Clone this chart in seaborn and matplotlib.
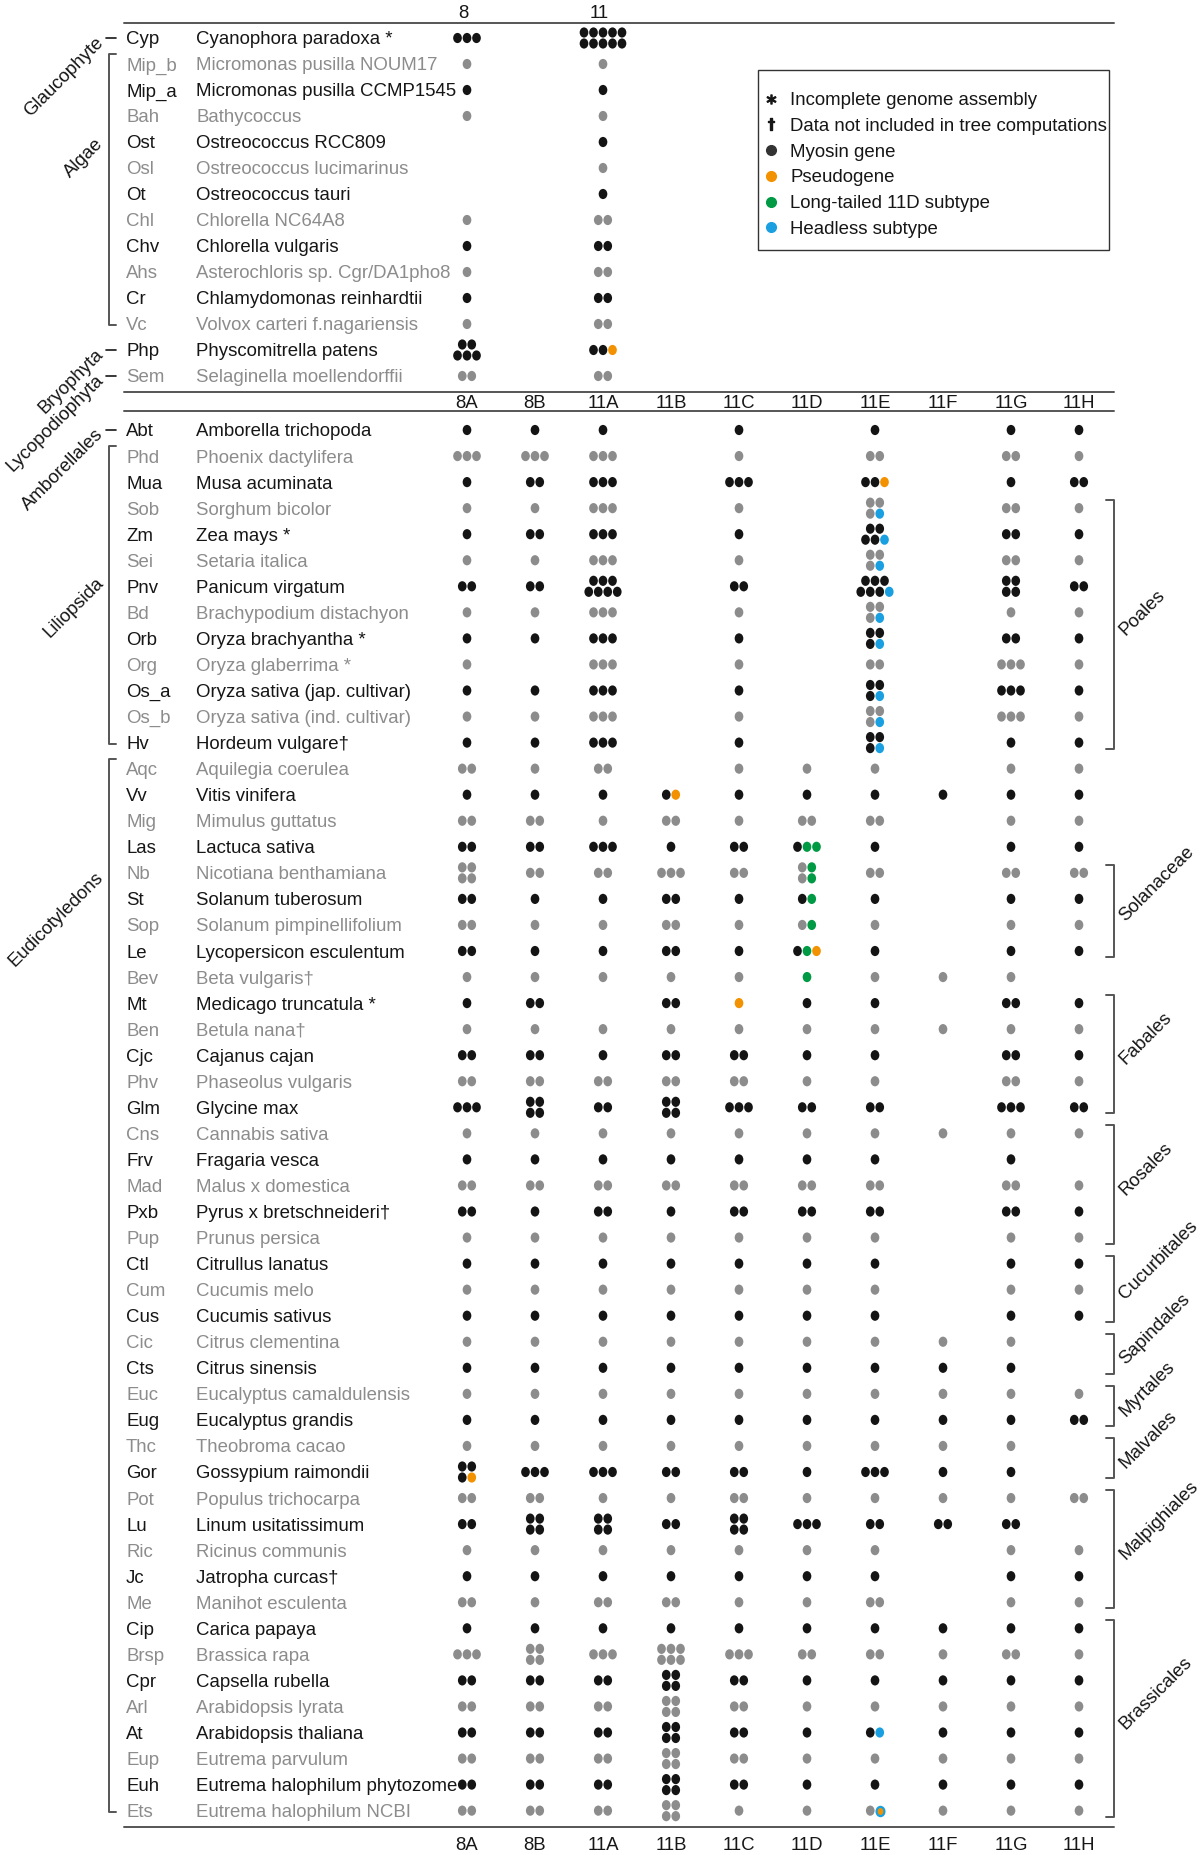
import matplotlib.pyplot as plt
import pandas as pd
import seaborn as sns
from matplotlib.lines import Line2D
from matplotlib.markers import MarkerStyle
from matplotlib.patches import Rectangle
from matplotlib.path import Path
from matplotlib.transforms import Affine2D

# cell codes: int = that many plain myosin genes, str = one letter per gene
# n plain, p pseudogene, l long-tailed 11D, h headless, x headless pseudogene

top_classes = ['8', '11']
top_abbr = ['Cyp', 'Mip_b', 'Mip_a', 'Bah', 'Ost', 'Osl', 'Ot', 'Chl', 'Chv',
            'Ahs', 'Cr', 'Vc', 'Php', 'Sem']
top_names = ['Cyanophora paradoxa *', 'Micromonas pusilla NOUM17',
             'Micromonas pusilla CCMP1545', 'Bathycoccus',
             'Ostreococcus RCC809', 'Ostreococcus lucimarinus',
             'Ostreococcus tauri', 'Chlorella NC64A8', 'Chlorella vulgaris',
             'Asterochloris sp. Cgr/DA1pho8', 'Chlamydomonas reinhardtii',
             'Volvox carteri f.nagariensis', 'Physcomitrella patens',
             'Selaginella moellendorffii']
top_counts = [[3, 10], [1, 1], [1, 1], [1, 1], [0, 1], [0, 1], [0, 1],
              [1, 2], [1, 2], [1, 2], [1, 2], [1, 2], [5, 'nnp'], [2, 2]]

classes = ['8A', '8B', '11A', '11B', '11C', '11D', '11E', '11F', '11G', '11H']
abbr = ['Abt', 'Phd', 'Mua', 'Sob', 'Zm', 'Sei', 'Pnv', 'Bd', 'Orb', 'Org',
        'Os_a', 'Os_b', 'Hv', 'Aqc', 'Vv', 'Mig', 'Las', 'Nb', 'St', 'Sop',
        'Le', 'Bev', 'Mt', 'Ben', 'Cjc', 'Phv', 'Glm', 'Cns', 'Frv', 'Mad',
        'Pxb', 'Pup', 'Ctl', 'Cum', 'Cus', 'Cic', 'Cts', 'Euc', 'Eug', 'Thc',
        'Gor', 'Pot', 'Lu', 'Ric', 'Jc', 'Me', 'Cip', 'Brsp', 'Cpr', 'Arl',
        'At', 'Eup', 'Euh', 'Ets']
names = ['Amborella trichopoda', 'Phoenix dactylifera', 'Musa acuminata',
         'Sorghum bicolor', 'Zea mays *', 'Setaria italica',
         'Panicum virgatum', 'Brachypodium distachyon',
         'Oryza brachyantha *', 'Oryza glaberrima *',
         'Oryza sativa (jap. cultivar)', 'Oryza sativa (ind. cultivar)',
         'Hordeum vulgare†', 'Aquilegia coerulea', 'Vitis vinifera',
         'Mimulus guttatus', 'Lactuca sativa', 'Nicotiana benthamiana',
         'Solanum tuberosum', 'Solanum pimpinellifolium',
         'Lycopersicon esculentum', 'Beta vulgaris†',
         'Medicago truncatula *', 'Betula nana†', 'Cajanus cajan',
         'Phaseolus vulgaris', 'Glycine max', 'Cannabis sativa',
         'Fragaria vesca', 'Malus x domestica', 'Pyrus x bretschneideri†',
         'Prunus persica', 'Citrullus lanatus', 'Cucumis melo',
         'Cucumis sativus', 'Citrus clementina', 'Citrus sinensis',
         'Eucalyptus camaldulensis', 'Eucalyptus grandis',
         'Theobroma cacao', 'Gossypium raimondii', 'Populus trichocarpa',
         'Linum usitatissimum', 'Ricinus communis', 'Jatropha curcas†',
         'Manihot esculenta', 'Carica papaya', 'Brassica rapa',
         'Capsella rubella', 'Arabidopsis lyrata', 'Arabidopsis thaliana',
         'Eutrema parvulum', 'Eutrema halophilum phytozome',
         'Eutrema halophilum NCBI']
counts = [
    [1, 1, 1, 0, 1, 0, 1, 0, 1, 1],
    [3, 3, 3, 0, 1, 0, 2, 0, 2, 1],
    [1, 2, 3, 0, 3, 0, 'nnp', 0, 1, 2],
    [1, 1, 3, 0, 1, 0, 'nnnh', 0, 2, 1],
    [1, 2, 3, 0, 1, 0, 'nnnnh', 0, 2, 1],
    [1, 1, 3, 0, 1, 0, 'nnnh', 0, 2, 1],
    [2, 2, 7, 0, 2, 0, 'nnnnnnh', 0, 4, 2],
    [1, 1, 3, 0, 1, 0, 'nnnh', 0, 1, 1],
    [1, 1, 3, 0, 1, 0, 'nnnh', 0, 2, 1],
    [1, 0, 3, 0, 1, 0, 2, 0, 3, 1],
    [1, 1, 3, 0, 1, 0, 'nnnh', 0, 3, 1],
    [1, 1, 3, 0, 1, 0, 'nnnh', 0, 3, 1],
    [1, 1, 3, 0, 1, 0, 'nnnh', 0, 1, 1],
    [2, 1, 2, 0, 1, 1, 1, 0, 1, 1],
    [1, 1, 1, 'np', 1, 1, 1, 1, 1, 1],
    [2, 2, 1, 2, 1, 2, 2, 0, 1, 1],
    [2, 2, 3, 1, 2, 'nll', 1, 0, 1, 1],
    [4, 2, 2, 3, 2, 'nlnl', 2, 0, 2, 2],
    [2, 1, 1, 2, 1, 'nl', 1, 0, 1, 1],
    [2, 1, 1, 2, 1, 'nl', 1, 0, 1, 1],
    [2, 1, 1, 2, 1, 'nlp', 1, 0, 1, 1],
    [1, 1, 1, 1, 1, 'l', 1, 1, 1, 0],
    [1, 2, 0, 2, 'p', 1, 1, 0, 2, 1],
    [1, 1, 1, 1, 1, 1, 1, 1, 1, 1],
    [2, 2, 1, 2, 2, 1, 1, 0, 2, 1],
    [2, 2, 2, 2, 2, 1, 1, 0, 2, 1],
    [3, 4, 2, 4, 3, 2, 2, 0, 3, 2],
    [1, 1, 1, 1, 1, 1, 1, 1, 1, 1],
    [1, 1, 1, 1, 1, 1, 1, 0, 1, 0],
    [2, 2, 2, 2, 2, 2, 2, 0, 2, 1],
    [2, 1, 2, 1, 2, 2, 2, 0, 2, 1],
    [1, 1, 1, 1, 1, 1, 1, 0, 1, 1],
    [1, 1, 1, 1, 1, 1, 1, 0, 1, 1],
    [1, 1, 1, 1, 1, 1, 1, 0, 1, 1],
    [1, 1, 1, 1, 1, 1, 1, 0, 1, 1],
    [1, 1, 1, 1, 1, 1, 1, 1, 1, 0],
    [1, 1, 1, 1, 1, 1, 1, 1, 1, 0],
    [1, 1, 1, 1, 1, 1, 1, 1, 1, 1],
    [1, 1, 1, 1, 1, 1, 1, 1, 1, 2],
    [1, 1, 1, 1, 1, 1, 1, 1, 1, 0],
    ['nnnp', 3, 3, 2, 2, 1, 3, 1, 1, 0],
    [2, 2, 1, 1, 2, 1, 1, 1, 1, 2],
    [2, 4, 4, 2, 4, 3, 2, 2, 2, 0],
    [1, 1, 1, 1, 1, 1, 1, 0, 1, 1],
    [1, 1, 1, 1, 1, 1, 1, 0, 1, 1],
    [2, 1, 2, 2, 1, 1, 2, 0, 1, 1],
    [1, 1, 1, 1, 1, 1, 1, 1, 1, 1],
    [3, 4, 3, 6, 3, 2, 2, 1, 2, 1],
    [2, 2, 2, 4, 2, 1, 1, 1, 1, 1],
    [2, 2, 2, 4, 2, 1, 1, 1, 1, 1],
    [2, 2, 2, 4, 2, 1, 'nh', 1, 1, 1],
    [2, 2, 2, 4, 2, 1, 1, 1, 1, 1],
    [2, 2, 2, 4, 2, 1, 1, 1, 1, 1],
    [2, 2, 2, 4, 1, 1, 'nx', 1, 1, 1],
]

# (label, first row, last row, row the label points at)
top_groups = [('Glaucophyte', 'Cyp', 'Cyp', 0), ('Algae', 'Mip_b', 'Vc', 3.9),
              ('Bryophyta', 'Php', 'Php', 12), ('Lycopodiophyta', 'Sem', 'Sem', 13)]
plant_groups = [('Amborellales', 'Abt', 'Abt', 0), ('Liliopsida', 'Phd', 'Hv', 5.7),
                ('Eudicotyledons', 'Aqc', 'Ets', 17)]
orders = [('Poales', 'Sob', 'Hv'), ('Solanaceae', 'Nb', 'Le'),
          ('Fabales', 'Mt', 'Glm'), ('Rosales', 'Cns', 'Pup'),
          ('Cucurbitales', 'Ctl', 'Cus'), ('Sapindales', 'Cic', 'Cts'),
          ('Myrtales', 'Euc', 'Eug'), ('Malvales', 'Thc', 'Gor'),
          ('Malpighiales', 'Pot', 'Me'), ('Brassicales', 'Cip', 'Ets')]

legend_labels = ['Incomplete genome assembly',
                 'Data not included in tree computations', 'Myosin gene',
                 'Pseudogene', 'Long-tailed 11D subtype', 'Headless subtype']

# ---- layout ----
W, H = 1200, 1855
TOP_Y0, BOT_Y0, ROW_H = 38, 430, 26.05
COL_X0, COL_DX = 467, 68
DOT_DX, DOT_DY = 9.5, 11
ABBR_X, NAME_X = 126, 196
LINE_X0, LINE_X1 = 124, 1114
ink, grey, rule = '#161616', '#8c8c8c', '#555555'
palette = {'dark': '#141414', 'light': '#8c8c8c', 'p': '#f39200',
           'l': '#009a44', 'h': '#1aa0e0', 'x': '#f39200'}

sns.set_theme(style='white')
plt.rcParams['font.family'] = ['Liberation Sans', 'DejaVu Sans']
FS = 13.4


def dot_rows(section_y, row_counts, col_idx):
    out = []
    for r, cells in enumerate(row_counts):
        shade = 'dark' if r % 2 == 0 else 'light'
        for c, cell in enumerate(cells):
            kinds = 'n' * cell if isinstance(cell, int) else cell
            n = len(kinds)
            layout = [n] if n <= 3 else [n // 2, n - n // 2]
            k = 0
            for li, cnt in enumerate(layout):
                dy = (li - (len(layout) - 1) / 2) * DOT_DY
                for j in range(cnt):
                    dx = (j - (cnt - 1) / 2) * DOT_DX
                    kind = shade if kinds[k] == 'n' else kinds[k]
                    k += 1
                    out.append({'x': COL_X0 + col_idx[c] * COL_DX + dx,
                                'y': section_y[r] + dy, 'kind': kind})
    return out


top_y = [TOP_Y0 + i * 26 for i in range(len(top_abbr))]
bot_y = [BOT_Y0 + i * ROW_H for i in range(len(abbr))]

dots = pd.DataFrame(dot_rows(top_y, top_counts, [0, 2]) +
                    dot_rows(bot_y, counts, list(range(len(classes)))))

fig = plt.figure(figsize=(W / 100, H / 100), dpi=100)
ax = fig.add_axes([0, 0, 1, 1])

oval = MarkerStyle(Path.unit_circle().transformed(Affine2D().scale(0.85, 1.0)))
plain = dots[dots['kind'] != 'x']
sns.scatterplot(data=plain, x='x', y='y', hue='kind', palette=palette,
                marker=oval, s=54, linewidth=0, legend=False, ax=ax)
special = dots[dots['kind'] == 'x']
sns.scatterplot(data=special, x='x', y='y', color=palette['x'], marker=oval,
                s=44, edgecolor=palette['h'], linewidth=1.6, legend=False,
                ax=ax)
ax.set_xlim(0, W)
ax.set_ylim(H, 0)
ax.axis('off')

# row labels
for ys, ab, nm in [(top_y, top_abbr, top_names), (bot_y, abbr, names)]:
    for r, (y, a, n) in enumerate(zip(ys, ab, nm)):
        col = ink if r % 2 == 0 else grey
        ax.text(ABBR_X, y + 6.5, a, color=col, fontsize=FS, va='baseline')
        ax.text(NAME_X, y + 6.5, n, color=col, fontsize=FS, va='baseline')

# column headers and rules
for i, lab in zip([0, 2], top_classes):
    ax.text(COL_X0 + i * COL_DX - 4, 11 + 6.5, lab, ha='center',
            va='baseline', fontsize=FS, color=ink)
for yh in [401, 1843]:
    for i, lab in enumerate(classes):
        ax.text(COL_X0 + i * COL_DX, yh + 6.5, lab, ha='center',
                va='baseline', fontsize=FS, color=ink)
for yl in [22.5, 391.5, 410.5, 1827]:
    ax.plot([LINE_X0, LINE_X1], [yl, yl], color=rule, lw=1.4)

# left taxon groups
for groups, ys, ab in [(top_groups, top_y, top_abbr),
                       (plant_groups, bot_y, abbr)]:
    for label, first, last, at in groups:
        y0, y1 = ys[ab.index(first)], ys[ab.index(last)]
        if first == last:
            ax.plot([106, 116], [y0, y0], color=ink, lw=1.2)
        else:
            ax.plot([116, 109, 109, 116], [y0 - 10, y0 - 10, y1 + 1, y1 + 1],
                    color=rule, lw=1.4)
        ya = ys[0] + at * (ys[1] - ys[0])
        ax.text(101, ya + 2, label, rotation=45, rotation_mode='anchor',
                ha='right', va='center', fontsize=FS, color=ink)

# right order brackets
for label, first, last in orders:
    y0, y1 = bot_y[abbr.index(first)] - 8, bot_y[abbr.index(last)] + 6
    ax.plot([1106, 1114, 1114, 1106], [y0, y0, y1, y1], color=rule, lw=1.4)
    ax.text(1122, (y0 + y1) / 2 + 8, label, rotation=45, rotation_mode='anchor',
            ha='left', va='center', fontsize=FS, color=ink)

# legend: fixed box, entries placed inside it
ax.add_patch(Rectangle((758, 70), 351, 180, fill=False, ec='#333333', lw=1.0))
handles = [
    Line2D([], [], ls='', marker='$*$', color=ink, markersize=6.5),
    Line2D([], [], ls='', marker=r'$\dagger$', color=ink, markersize=8),
    Line2D([], [], ls='', marker='o', color='#333333', markersize=7),
    Line2D([], [], ls='', marker='o', color=palette['p'], markersize=7),
    Line2D([], [], ls='', marker='o', color=palette['l'], markersize=7),
    Line2D([], [], ls='', marker='o', color=palette['h'], markersize=7),
]
leg = ax.legend(handles, legend_labels, loc='upper left',
                bbox_to_anchor=(764, 92), bbox_transform=ax.transData,
                frameon=False, fontsize=FS, handlelength=0.78,
                handletextpad=0.62, labelspacing=0.47, borderpad=0,
                borderaxespad=0)
for t in leg.get_texts():
    t.set_color(ink)

fig.savefig('out.png', dpi=100)
